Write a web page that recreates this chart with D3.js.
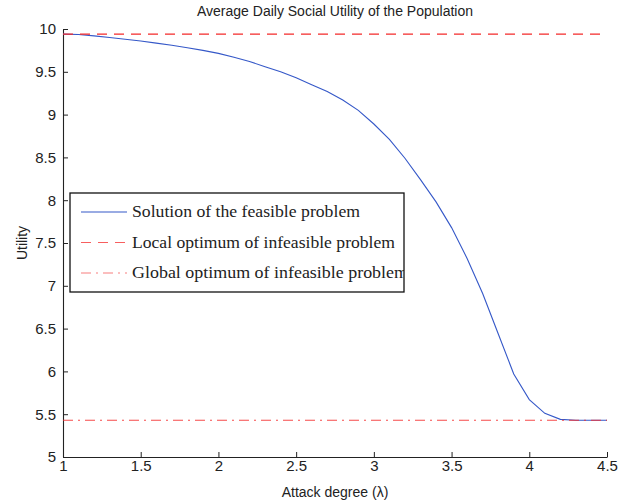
<!DOCTYPE html>
<html>
<head>
<meta charset="utf-8">
<script src="https://cdn.jsdelivr.net/npm/d3@7"></script>
<style>
  html, body { margin: 0; padding: 0; background: #fff; }
  svg { display: block; }
  text { font-family: "Liberation Sans", Arial, sans-serif; fill: #222; }
</style>
</head>
<body>
<svg id="chart" width="636" height="504"></svg>
<script>
// Attack degree (lambda) samples and the feasible-problem utility at each
const lambda = [1.0, 1.1, 1.2, 1.3, 1.4, 1.5, 1.6, 1.7, 1.8, 1.9,
                2.0, 2.1, 2.2, 2.3, 2.4, 2.5, 2.6, 2.7, 2.8, 2.9,
                3.0, 3.1, 3.2, 3.3, 3.4, 3.5, 3.6, 3.7, 3.8, 3.9,
                4.0, 4.1, 4.2, 4.3, 4.4, 4.5];
const feasibleUtility = [9.94, 9.935, 9.92, 9.90, 9.88, 9.86, 9.835, 9.81, 9.78, 9.75,
                         9.715, 9.67, 9.62, 9.56, 9.50, 9.43, 9.35, 9.27, 9.17, 9.05,
                         8.89, 8.71, 8.49, 8.24, 7.98, 7.68, 7.32, 6.91, 6.44, 5.97,
                         5.67, 5.51, 5.44, 5.43, 5.43, 5.43];
// Optima of the infeasible problem (constant in lambda)
const localOptimum = 9.94;
const globalOptimum = 5.43;

const xTicks = [1, 1.5, 2, 2.5, 3, 3.5, 4, 4.5];
const yTicks = [5, 5.5, 6, 6.5, 7, 7.5, 8, 8.5, 9, 9.5, 10];
const legendLabels = ["Solution of the feasible problem",
                      "Local optimum of infeasible problem",
                      "Global optimum of infeasible problem"];

const svg = d3.select("#chart");
const plot = { left: 63, right: 607, top: 29, bottom: 457 };

const x = d3.scaleLinear().domain([1, 4.5]).range([plot.left, plot.right]);
const y = d3.scaleLinear().domain([5, 10]).range([plot.bottom, plot.top]);

const blue = "#3558c8";
const red = "#f42a2a";
const dashStyle = "10,7";
const dashDotStyle = "10,5,2,5";

// Axes: ticks point into the plot area
const xAxis = d3.axisBottom(x).tickValues(xTicks).tickFormat(d3.format("")).tickSizeInner(-5).tickSizeOuter(0).tickPadding(5);
const yAxis = d3.axisLeft(y).tickValues(yTicks).tickFormat(d3.format("")).tickSizeInner(-5).tickSizeOuter(0).tickPadding(7);

const gx = svg.append("g").attr("transform", `translate(0,${plot.bottom})`).call(xAxis);
const gy = svg.append("g").attr("transform", `translate(${plot.left},0)`).call(yAxis);
[gx, gy].forEach(g => {
  g.select(".domain").attr("stroke", "#222").attr("stroke-width", 1.1);
  g.selectAll(".tick line").attr("stroke", "#222");
  g.selectAll(".tick text").style("font-size", "15px").style("font-family", "Liberation Sans, Arial, sans-serif").attr("fill", "#222");
});
gx.selectAll(".tick text").attr("dy", "0.6em");

// Series
const line = d3.line().x((d, i) => x(lambda[i])).y(d => y(d));
svg.append("path")
  .datum(feasibleUtility)
  .attr("d", line)
  .attr("fill", "none")
  .attr("stroke", blue)
  .attr("stroke-width", 1.1);

svg.append("line")
  .attr("x1", x(1)).attr("x2", x(4.5))
  .attr("y1", y(localOptimum)).attr("y2", y(localOptimum))
  .attr("stroke", red).attr("stroke-width", 1.1)
  .attr("stroke-dasharray", dashStyle);

svg.append("line")
  .attr("x1", x(1)).attr("x2", x(4.5))
  .attr("y1", y(globalOptimum)).attr("y2", y(globalOptimum))
  .attr("stroke", red).attr("stroke-width", 1.1).attr("stroke-opacity", 0.85)
  .attr("stroke-dasharray", dashDotStyle);

// Title and axis labels
svg.append("text")
  .attr("x", (plot.left + plot.right) / 2).attr("y", 16)
  .attr("text-anchor", "middle").style("font-size", "14px")
  .text("Average Daily Social Utility of the Population");

svg.append("text")
  .attr("x", (plot.left + plot.right) / 2).attr("y", 497)
  .attr("text-anchor", "middle").style("font-size", "14px")
  .text("Attack degree (λ)");

svg.append("text")
  .attr("transform", `translate(27,${(plot.top + plot.bottom) / 2}) rotate(-90)`)
  .attr("text-anchor", "middle").style("font-size", "14px")
  .text("Utility");

// Legend
const legend = { x: 70, y: 193, w: 334, h: 99 };
const lg = svg.append("g");
lg.append("defs").append("clipPath").attr("id", "legclip")
  .append("rect").attr("x", legend.x).attr("y", legend.y).attr("width", legend.w).attr("height", legend.h);
lg.append("rect")
  .attr("x", legend.x).attr("y", legend.y).attr("width", legend.w).attr("height", legend.h)
  .attr("fill", "#fff").attr("stroke", "#111").attr("stroke-width", 1.3);

const legendStyles = [
  { color: blue, dash: null, opacity: 1, width: 228 },
  { color: red, dash: dashStyle, opacity: 0.75, width: 263 },
  { color: red, dash: dashDotStyle, opacity: 0.6, width: 276 }
];
legendLabels.forEach((label, i) => {
  const cy = 212 + i * 30.5;
  lg.append("line")
    .attr("x1", 81).attr("x2", 127).attr("y1", cy).attr("y2", cy)
    .attr("stroke", legendStyles[i].color).attr("stroke-width", 1.1)
    .attr("stroke-opacity", legendStyles[i].opacity)
    .attr("stroke-dasharray", legendStyles[i].dash);
  lg.append("text")
    .attr("x", 132).attr("y", cy + 5)
    .attr("clip-path", "url(#legclip)")
    .attr("textLength", legendStyles[i].width)
    .attr("lengthAdjust", "spacingAndGlyphs")
    .style("font-family", "'Liberation Serif', 'DejaVu Serif', serif")
    .style("font-size", "16.5px")
    .attr("fill", "#333")
    .text(label);
});
</script>
</body>
</html>
